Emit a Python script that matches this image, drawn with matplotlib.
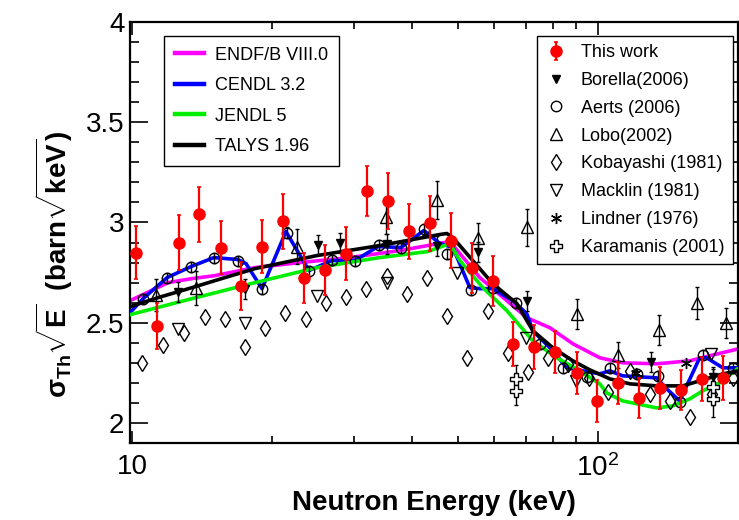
import numpy as np
import matplotlib
matplotlib.use("Agg")
import matplotlib.pyplot as plt
from matplotlib.ticker import FixedLocator, FixedFormatter, LogLocator, NullFormatter, MultipleLocator, FuncFormatter

plt.rcParams['font.family'] = ['Liberation Sans', 'DejaVu Sans']
plt.rcParams['mathtext.fontset'] = 'custom'
plt.rcParams['mathtext.rm'] = 'Liberation Sans'
plt.rcParams['mathtext.bf'] = 'Liberation Sans:bold'
plt.rcParams['mathtext.it'] = 'Liberation Sans:italic'
plt.rcParams['mathtext.sf'] = 'Liberation Sans'

#---------------------------------------------------------- this work (keV, barn*sqrt(keV))
e_tw  = [10.2, 11.3, 12.6, 13.9, 15.5, 17.1, 19.0, 21.1, 23.4, 25.9, 28.8, 31.9, 35.4, 39.3, 43.6,
         48.4, 53.6, 59.5, 65.7, 72.9, 80.9, 90.2, 99.5, 110.4, 122.4, 135.8, 150.7, 167.2, 185.5]
s_tw  = [2.85, 2.485, 2.90, 3.04, 2.875, 2.685, 2.88, 3.005, 2.725, 2.765, 2.845, 3.155, 3.105, 2.955, 2.995,
         2.91, 2.775, 2.71, 2.395, 2.38, 2.355, 2.25, 2.11, 2.20, 2.125, 2.175, 2.165, 2.22, 2.225]
ds_tw = [0.13, 0.115, 0.135, 0.135, 0.13, 0.12, 0.13, 0.135, 0.125, 0.125, 0.13, 0.125, 0.14, 0.135, 0.135,
         0.135, 0.125, 0.125, 0.11, 0.11, 0.105, 0.105, 0.105, 0.105, 0.10, 0.105, 0.10, 0.11, 0.11]

#---------------------------------------------------------- previous measurements
e_bor  = [12.55, 17.48, 25.06, 27.95, 35.26, 45.13, 55.26, 70.4, 129.9, 176.5]
s_bor  = [2.655, 2.67, 2.89, 2.90, 2.895, 2.885, 2.855, 2.61, 2.305, 2.23]

e_aer  = [10.56, 11.89, 13.39, 14.99, 16.88, 19.01, 21.51, 23.98, 26.87, 30.10, 33.88, 37.78, 42.33,
          47.42, 53.4, 59.49, 66.7, 75.09, 84.13, 94.72, 106.1, 121.2, 134.5, 149.9, 168.0, 194.9]
s_aer  = [2.62, 2.725, 2.78, 2.825, 2.81, 2.67, 2.95, 2.76, 2.815, 2.81, 2.89, 2.875, 2.965,
          2.845, 2.665, 2.675, 2.60, 2.395, 2.275, 2.23, 2.275, 2.245, 2.235, 2.105, 2.34, 2.275]

e_lobo  = [11.26, 13.72, 22.6, 35.08, 45.13, 55.26, 70.4, 90.2, 110.4, 135.1, 163.1, 188.2]
s_lobo  = [2.64, 2.675, 2.88, 3.025, 3.11, 2.925, 2.975, 2.545, 2.34, 2.465, 2.60, 2.50]
ds_lobo = [0.08, 0.085, 0.085, 0.08, 0.095, 0.07, 0.09, 0.075, 0.065, 0.075, 0.08, 0.075]

e_kob = [10.51, 11.65, 12.93, 14.35, 15.83, 17.48, 19.29, 21.30, 23.63, 26.08, 28.79, 31.78, 35.26, 38.92, 42.96,
         47.42, 52.35, 58.07, 64.11, 70.74, 78.10, 86.22, 95.65, 105.1, 117.2, 129.3, 142.7, 157.6, 175.6, 194.9]
s_kob = [2.30, 2.39, 2.45, 2.53, 2.52, 2.38, 2.475, 2.55, 2.52, 2.60, 2.63, 2.67, 2.735, 2.645, 2.725,
         2.535, 2.325, 2.56, 2.35, 2.255, 2.325, 2.295, 2.225, 2.155, 2.26, 2.145, 2.11, 2.03, 2.145, 2.225]

e_mac = [12.55, 17.48, 24.95, 35.26, 49.83, 70.06, 89.7, 174.8]
s_mac = [2.47, 2.50, 2.635, 2.70, 2.75, 2.425, 2.21, 2.345]

e_lin = [120.6, 154.5]
s_lin = [2.25, 2.30]

e_kar  = [66.7, 66.7, 176.5, 176.5]
s_kar  = [2.22, 2.16, 2.18, 2.12]
ds_kar = [0.07, 0.07, 0.09, 0.09]

#---------------------------------------------------------- evaluations
e_endf = [9.9, 10.66, 11.95, 13.45, 15.07, 18.37, 22.93, 29.37, 37.6, 48.13, 50.57, 55.82, 63.79, 70.4,
          78.89, 88.4, 101.0, 113.1, 133.8, 157.6, 173.9, 200.7]
s_endf = [2.61, 2.645, 2.70, 2.72, 2.735, 2.775, 2.80, 2.825, 2.86, 2.905, 2.845, 2.725, 2.61, 2.525,
          2.475, 2.395, 2.325, 2.30, 2.295, 2.31, 2.335, 2.37]

e_cendl = [9.9, 10.56, 11.89, 13.39, 14.99, 16.88, 17.57, 19.01, 21.40, 23.98, 26.87, 30.10, 33.72, 37.78,
           42.33, 45.81, 48.85, 53.13, 55.82, 59.49, 65.7, 70.4, 72.53, 80.09, 85.8, 92.86, 101.0, 106.1,
           113.1, 133.8, 140.6, 149.9, 165.5, 171.3, 185.5, 200.7]
s_cendl = [2.55, 2.62, 2.725, 2.78, 2.825, 2.815, 2.795, 2.67, 2.955, 2.76, 2.81, 2.81, 2.88, 2.875,
           2.96, 2.895, 2.875, 2.675, 2.67, 2.67, 2.61, 2.545, 2.46, 2.36, 2.275, 2.26, 2.245, 2.26,
           2.235, 2.225, 2.17, 2.11, 2.325, 2.325, 2.275, 2.275]

e_jendl = [9.9, 13.45, 18.37, 24.95, 34.05, 43.17, 48.13, 50.57, 56.65, 63.79, 72.53, 81.66, 91.5,
           101.0, 104.5, 113.1, 133.8, 144.9, 157.6, 168.0, 182.7, 200.7]
s_jendl = [2.54, 2.62, 2.70, 2.775, 2.825, 2.855, 2.895, 2.81, 2.675, 2.56, 2.41, 2.325, 2.26,
           2.195, 2.15, 2.11, 2.075, 2.085, 2.12, 2.16, 2.20, 2.275]

e_talys = [9.9, 11.37, 13.45, 15.83, 18.37, 24.95, 34.05, 45.81, 47.42, 48.85, 53.9, 59.49, 67.03, 72.53,
           80.09, 88.4, 96.1, 106.1, 117.2, 133.8, 152.2, 165.5, 185.5, 200.7]
s_talys = [2.58, 2.625, 2.675, 2.725, 2.77, 2.835, 2.885, 2.94, 2.945, 2.925, 2.81, 2.695, 2.595, 2.46,
           2.375, 2.31, 2.265, 2.22, 2.195, 2.185, 2.185, 2.21, 2.245, 2.26]

#---------------------------------------------------------- plotting
fig = plt.figure(figsize=(7.39, 5.2), dpi=100)
ax = fig.add_axes([130/739, 77/520, 608/739, 421/520])

l1, = ax.plot(e_endf, s_endf, c="#ff00ff", lw=2.6, zorder=2)
l2, = ax.plot(e_cendl, s_cendl, c="#0000ff", lw=2.6, zorder=3)
l3, = ax.plot(e_jendl, s_jendl, c="#00ee00", lw=2.6, zorder=4)
l4, = ax.plot(e_talys, s_talys, c="black", lw=2.6, zorder=5)

kw = dict(ls="none", ecolor="black", elinewidth=1.0, capsize=1.5, zorder=6)
h_bor = ax.errorbar(e_bor, s_bor, yerr=0.05, fmt="v", ms=6, mfc="black", mec="black", **kw)
h_aer = ax.errorbar(e_aer, s_aer, yerr=0.025, fmt="o", ms=7.5, mfc="none", mec="black", mew=1.0, **kw)
h_lob = ax.errorbar(e_lobo, s_lobo, yerr=ds_lobo, fmt="^", ms=9, mfc="none", mec="black", mew=1.0, **kw)
h_kob, = ax.plot(e_kob, s_kob, ls="none", marker="d", ms=8, mfc="none", mec="black", mew=1.0, zorder=6)
h_mac, = ax.plot(e_mac, s_mac, ls="none", marker="v", ms=8, mfc="none", mec="black", mew=1.0, zorder=6)
h_lin, = ax.plot(e_lin, s_lin, ls="none", marker=(6, 2, 0), ms=8, mec="black", mew=1.0, zorder=6)
h_kar = ax.errorbar(e_kar, s_kar, yerr=ds_kar, fmt="P", ms=8, mfc="white", mec="black", mew=1.0, **kw)

h_tw = ax.errorbar(e_tw, s_tw, yerr=ds_tw, fmt="o", ms=8, color="#ff0000", ecolor="#ff0000",
                   elinewidth=1.6, capsize=1.5, capthick=1.2, zorder=10)

ax.set_xscale("log")
ax.set_xlim(9.9, 200)
ax.set_ylim(1.9, 4.0)
ax.xaxis.set_major_locator(FixedLocator([10, 100]))
ax.xaxis.set_major_formatter(FixedFormatter(["10", "$10^2$"]))
ax.xaxis.set_minor_locator(LogLocator(base=10, subs=np.arange(2, 10)))
ax.xaxis.set_minor_formatter(NullFormatter())
ax.yaxis.set_major_locator(MultipleLocator(0.5))
ax.yaxis.set_minor_locator(MultipleLocator(0.1))
ax.yaxis.set_major_formatter(FuncFormatter(lambda v, p: "%g" % v))

ax.tick_params(which="both", direction="in", top=True, right=True, labelsize=20, width=1.2)
ax.tick_params(axis="x", which="major", length=9, pad=8)
ax.tick_params(axis="x", which="minor", length=5)
ax.tick_params(axis="y", which="major", length=13, pad=4)
ax.tick_params(axis="y", which="minor", length=6.5)
for sp in ax.spines.values():
    sp.set_linewidth(1.6)

ax.set_xlabel("Neutron Energy (keV)", fontsize=20, fontweight="bold")
ax.xaxis.set_label_coords(0.5, -0.112)
ax.set_ylabel(r"$\mathbf{\sigma_{Th}}\sqrt{\mathbf{E}}$  (barn$\sqrt{\mathbf{keV}}$)",
              fontsize=20, fontweight="bold")
ax.yaxis.set_label_coords(-0.09, 0.425)

leg1 = ax.legend([l1, l2, l3, l4], ["ENDF/B VIII.0", "CENDL 3.2", "JENDL 5", "TALYS 1.96"],
                 loc="upper left", bbox_to_anchor=(0.056, 0.967), borderaxespad=0, fontsize=13,
                 frameon=True, fancybox=False, edgecolor="black", framealpha=1,
                 handlelength=1.6, handletextpad=0.6, labelspacing=0.75, borderpad=0.6)
leg1.get_frame().set_linewidth(1.0)
for ln in leg1.get_lines():
    ln.set_linewidth(3.2)
ax.add_artist(leg1)

leg2 = ax.legend([h_tw, h_bor[0], h_aer[0], h_lob[0], h_kob, h_mac, h_lin, h_kar[0]],
                 ["This work", "Borella(2006)", "Aerts (2006)", "Lobo(2002)", "Kobayashi (1981)",
                  "Macklin (1981)", "Lindner (1976)", "Karamanis (2001)"],
                 loc="upper left", bbox_to_anchor=(0.669, 0.967), borderaxespad=0, fontsize=13,
                 frameon=True, fancybox=False, edgecolor="black", framealpha=1,
                 handlelength=1.2, handletextpad=0.8, labelspacing=0.6, borderpad=0.45)
leg2.get_frame().set_linewidth(1.0)

fig.savefig("out.png", dpi=100)
